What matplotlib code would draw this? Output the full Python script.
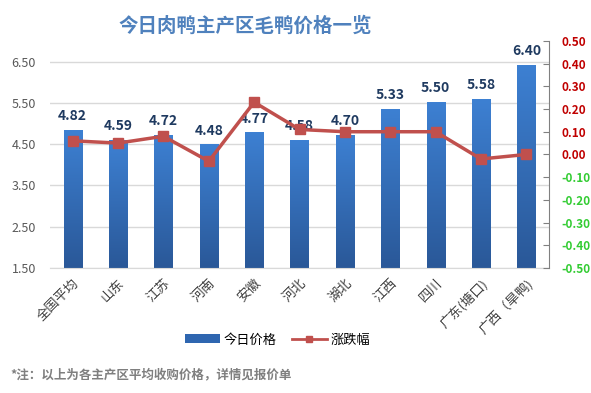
import numpy as np
import matplotlib
matplotlib.use("Agg")
import matplotlib.pyplot as plt
from matplotlib.lines import Line2D
from matplotlib.patches import Patch

plt.rcParams['font.family'] = ['Noto Sans CJK SC', 'DejaVu Sans']

# data
regions = ["全国平均", "山东", "江苏", "河南", "安徽", "河北", "湖北", "江西", "四川",
           "广东(塘口)", "广西（旱鸭)"]
price = [4.82, 4.59, 4.72, 4.48, 4.77, 4.58, 4.70, 5.33, 5.50, 5.58, 6.40]
change = [0.06, 0.05, 0.08, -0.03, 0.23, 0.11, 0.10, 0.10, 0.10, -0.02, 0.00]

left_ticks = [1.5, 2.5, 3.5, 4.5, 5.5, 6.5]
right_ticks = [-0.5, -0.4, -0.3, -0.2, -0.1, 0.0, 0.1, 0.2, 0.3, 0.4, 0.5]

blue_top = np.array([0x3d, 0x80, 0xd2]) / 255
blue_bot = np.array([0x2a, 0x58, 0x98]) / 255
red = "#c0504d"
dark = "#1f3a60"

fig = plt.figure(figsize=(5.91, 3.93), dpi=100)
ax = fig.add_axes([0.0846, 0.318, 0.8444, 0.578])
ax2 = ax.twinx()

x = np.arange(len(regions))
bw = 0.4

# gradient bars
grad = np.linspace(0, 1, 100)[:, None, None]
img = blue_bot * (1 - grad) + blue_top * grad
for xi, v in zip(x, price):
    ax.imshow(img, extent=(xi - bw / 2, xi + bw / 2, 1.5, v), origin="lower",
              aspect="auto", zorder=2)
    ax.text(xi, v + 0.18, f"{v:.2f}", ha="center", va="bottom", fontsize=10,
            fontweight="bold", color=dark, zorder=5)
ax.set_aspect("auto")
ax.set_xlim(-0.5, 10.5)
ax.set_ylim(1.5, 7.0)

ax.set_yticks(left_ticks)
ax.set_yticklabels([f"{t:.2f}" for t in left_ticks], fontsize=9, color="#595959")
ax.yaxis.grid(True, color="#d9d9d9", lw=1)
ax.set_axisbelow(True)
ax.tick_params(axis="y", length=0, pad=10)
ax.set_xticks(x)
ax.set_xticklabels(regions, rotation=45, ha="right", rotation_mode="anchor",
                   fontsize=9.5, color="#404040")
ax.tick_params(axis="x", length=0, pad=6)
for s in ["top", "right", "left"]:
    ax.spines[s].set_visible(False)
ax.spines["bottom"].set_color("#d9d9d9")

# line on secondary axis
ax2.plot(x, change, color=red, lw=2.5, marker="s", markersize=7, zorder=4)
ax2.set_ylim(-0.5, 0.5)
ax2.set_yticks(right_ticks)
ax2.set_yticklabels([f"{t:.2f}" for t in right_ticks], fontsize=8.5, fontweight="bold")
for lab, t in zip(ax2.get_yticklabels(), right_ticks):
    lab.set_color("#c00000" if t >= 0 else "#33cc33")
ax2.tick_params(axis="y", direction="in", length=4, color="#808080", pad=9)
for s in ["top", "left", "bottom"]:
    ax2.spines[s].set_visible(False)
ax2.spines["right"].set_color("#808080")

fig.text(0.415, 0.935, "今日肉鸭主产区毛鸭价格一览", ha="center", va="center",
         fontsize=14, fontweight="bold", color="#4f81bd")

handles = [Patch(facecolor="#2f66b0", edgecolor="none"),
           Line2D([0], [0], color=red, lw=2, marker="s", markersize=5)]
fig.legend(handles, ["今日价格", "涨跌幅"], loc="center", bbox_to_anchor=(0.47, 0.135),
           ncol=2, frameon=False, fontsize=9.5, handlelength=2.6, columnspacing=1.2,
           handletextpad=0.3)

fig.text(0.018, 0.045, "*注：以上为各主产区平均收购价格，详情见报价单", ha="left", va="center",
         fontsize=9, fontweight="bold", color="#7f7f7f")

fig.savefig("out.png", dpi=100)
